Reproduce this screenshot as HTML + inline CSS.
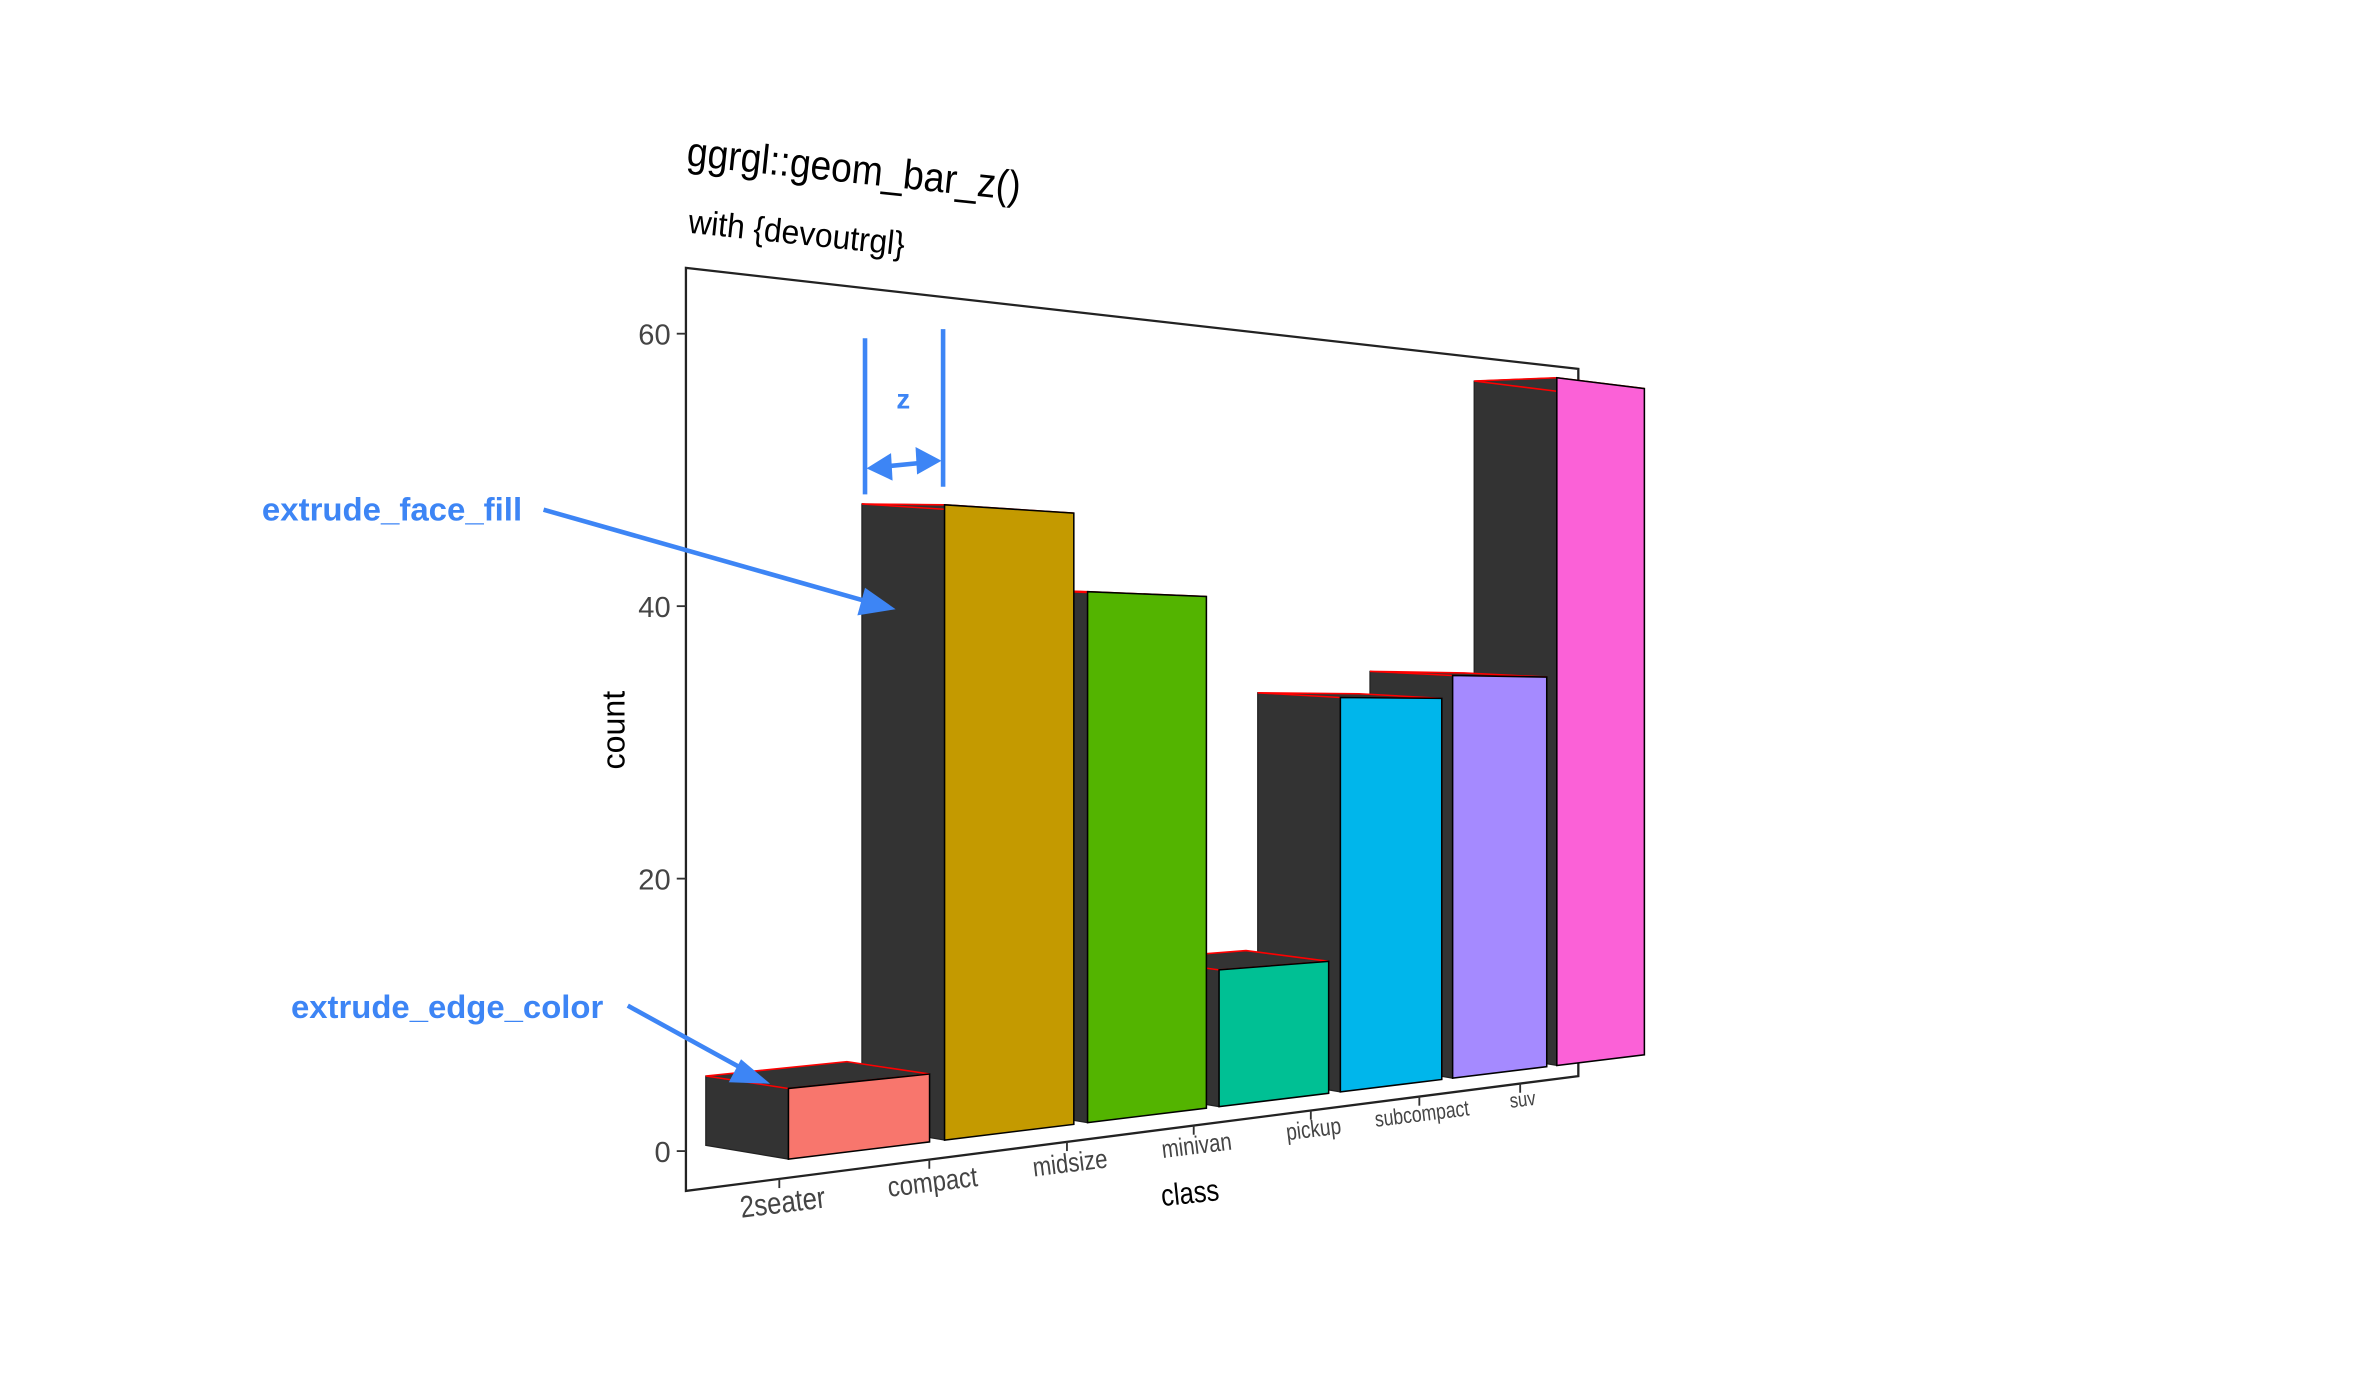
<!DOCTYPE html>
<html><head><meta charset="utf-8"><style>
html,body{margin:0;padding:0;background:#fff;}
svg{display:block;font-family:"Liberation Sans",sans-serif;}
</style></head><body>
<svg id="chart" width="2376" height="1396" viewBox="0 0 1552 912" xmlns="http://www.w3.org/2000/svg">
<rect x="0" y="0" width="1552" height="912" fill="#fff"/>
<g>
<text x="448" y="108" font-size="27" textLength="219" lengthAdjust="spacingAndGlyphs" transform="rotate(6 448 108)" fill="#000">ggrgl::geom_bar_z()</text>
<text x="449" y="152" font-size="22" textLength="142" lengthAdjust="spacingAndGlyphs" transform="rotate(6 449 152)" fill="#000">with {devoutrgl}</text>
</g>
<polygon points="448,175 1031,241 1031,703 448,778" fill="none" stroke="#222" stroke-width="1.5"/>
<g id="yaxis"></g>
<text x="408" y="477" font-size="21" text-anchor="middle" transform="rotate(-90 408 477)" fill="#000">count</text>
<g id="xaxis"></g>
<text x="778" y="786" font-size="20" textLength="38" lengthAdjust="spacingAndGlyphs" text-anchor="middle" transform="rotate(-6 778 786)" fill="#000">class</text>
<g id="bars"></g>
<g fill="#3d85f5" stroke="#3d85f5">
<text x="171" y="340" font-size="21" font-weight="bold" textLength="170" lengthAdjust="spacingAndGlyphs" stroke="none">extrude_face_fill</text>
<line x1="355" y1="333" x2="570" y2="394" stroke-width="3"/>
<polygon points="585,398 565,384 560,402" stroke="none"/>
<text x="190" y="665" font-size="21" font-weight="bold" textLength="204" lengthAdjust="spacingAndGlyphs" stroke="none">extrude_edge_color</text>
<line x1="410" y1="657" x2="490" y2="701" stroke-width="3"/>
<polygon points="503,708 484,692 476,707" stroke="none"/>
<line x1="565" y1="221" x2="565" y2="323" stroke-width="3"/>
<line x1="616" y1="215" x2="616" y2="318" stroke-width="3"/>
<line x1="575" y1="305" x2="606" y2="302" stroke-width="3"/>
<polygon points="566,306 582,296 583,314" stroke="none"/>
<polygon points="615,301 598,292 599,310" stroke="none"/>
<text x="590" y="267" font-size="18" font-weight="bold" text-anchor="middle" stroke="none">z</text>
</g>
</svg>
<script>
const categories = ["2seater","compact","midsize","minivan","pickup","subcompact","suv"];
const counts = [5, 47, 41, 11, 33, 35, 62];
const fills = ["#F8766D","#C49A00","#53B400","#00C094","#00B6EB","#A58AFF","#FB61D7"];
const yTicks = [0, 20, 40, 60];
const NS = "http://www.w3.org/2000/svg";
function xs(u){ return 562 + 102.4*u/(1+0.0449*u); }
function baseY(sx){ return 757 - 0.1219*(sx-517); }
function unitH(sx){ return 8.66 - 0.00396*(sx-660); }
function fy(sx, v){ return baseY(sx) - v*unitH(sx); }
function backY(v){ return -9 + 0.18*v; }
function yAxis(v){ return 752 - 8.9*v; }
function mk(tag, attrs){ const e=document.createElementNS(NS,tag); for(const k in attrs) e.setAttribute(k,attrs[k]); return e; }
const yg=document.getElementById('yaxis');
yTicks.forEach(t=>{
  const y=yAxis(t);
  const l=mk('line',{x1:442,x2:448,y1:y,y2:y,stroke:'#333','stroke-width':1.2});
  
  
  yg.appendChild(l);
  const tx=mk('text',{x:438,y:y+7,'font-size':19,'text-anchor':'end',fill:'#444'});
  tx.textContent=t;
  
  
  yg.appendChild(tx);
});
const xg=document.getElementById('xaxis');
const labelSizes=[20,18.5,17.5,16.5,15.5,14.5,13.5];
const labelWidths=[56,59,49,46,36,62,17];
categories.forEach((c,i)=>{
  const sx=xs(i)-53;
  const by=778 - (sx-448)*(75/583);
  const l=mk('line',{x1:sx,x2:sx,y1:by,y2:by+6,stroke:'#333','stroke-width':1.2});
  
  
  xg.appendChild(l);
  const tx=mk('text',{x:sx+3,y:by+22-i*1.2,'font-size':labelSizes[i],'text-anchor':'middle',fill:'#444',textLength:labelWidths[i],lengthAdjust:'spacingAndGlyphs',transform:`rotate(-7 ${sx+3} ${by+22})`});
  tx.textContent=c;
  
  
  xg.appendChild(tx);
});
const bg=document.getElementById('bars');
for(let i=categories.length-1;i>=0;i--){
  const v=counts[i];
  const xl=xs(i-0.45), xr=xs(i+0.45);
  const fTL=[xl,fy(xl,v)], fTR=[xr,fy(xr,v)], fBL=[xl,fy(xl,0)], fBR=[xr,fy(xr,0)];
  const dx=-54, dt=backY(v), db=backY(0);
  const bTL=[xl+dx,fTL[1]+dt], bTR=[xr+dx,fTR[1]+dt], bBL=[xl+dx,fBL[1]+db];
  const p=a=>a.map(q=>q.join(',')).join(' ');
  const side=mk('polygon',{points:p([fTL,fBL,bBL,bTL]),fill:'#333333',stroke:'#222','stroke-width':0.8});
  
  
  bg.appendChild(side);
  const top=mk('polygon',{points:p([fTL,fTR,bTR,bTL]),fill:'#333333',stroke:'#ff0000','stroke-width':1});
  
  
  bg.appendChild(top);
  const face=mk('polygon',{points:p([fTL,fTR,fBR,fBL]),fill:fills[i],stroke:'#000','stroke-width':1});
  
  
  bg.appendChild(face);
}
</script>
</body></html>
